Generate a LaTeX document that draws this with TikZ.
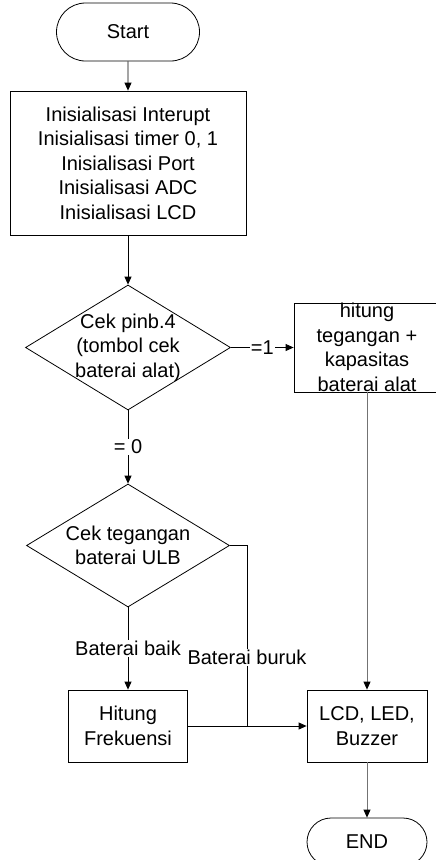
\documentclass[tikz,border=0pt]{standalone}
\usepackage{fontspec}
\setmainfont{Liberation Sans}
\usetikzlibrary{shapes.geometric,shapes.misc,arrows.meta}
\tikzset{
  flow/.style={draw, line width=0.8pt, align=center, inner sep=0pt},
  terminal/.style={flow, rounded rectangle},
  procbox/.style={flow, rectangle},
  decision/.style={flow, diamond},
  arr/.style={-{Triangle[length=8pt,width=7pt,color=black]}, line width=0.8pt},
  lbl/.style={fill=white, inner sep=1pt},
}

\begin{document}
\begin{tikzpicture}[x=1pt, y=1pt, font=\fontsize{20}{24.5}\selectfont]
    \useasboundingbox (0,0) rectangle (436,-860);
    \node[terminal, minimum width=143pt, minimum height=58pt] (start) at (128,-32) {Start};
    \node[procbox, minimum width=236pt, minimum height=144pt] (init) at (128,-163)
      {Inisialisasi Interupt\\Inisialisasi timer 0, 1\\Inisialisasi Port\\Inisialisasi ADC\\Inisialisasi LCD};
    \node[decision, minimum width=205pt, minimum height=125pt,
      label={[align=center]center:Cek pinb.4\\(tombol cek\\baterai alat)}] (cekpin) at (128,-347.5) {};
    \node[procbox, minimum width=146pt, minimum height=89pt,
      label={[align=center]center:hitung\\tegangan +\\kapasitas\\baterai alat}] (hitung) at (367,-347.5) {};
    \node[decision, minimum width=203pt, minimum height=123pt,
      label={[align=center]center:Cek tegangan\\baterai ULB}] (cekulb) at (128,-545.5) {};
    \node[procbox, minimum width=119pt, minimum height=72pt] (freq) at (128,-726) {Hitung\\Frekuensi};
    \node[procbox, minimum width=120pt, minimum height=72pt] (lcd) at (367,-726) {LCD, LED,\\Buzzer};
    \node[terminal, minimum width=120pt, minimum height=48pt] (end) at (367,-842) {END};
    \coordinate (join) at (247,-726);

    % connectors
    \draw[arr] (start) -- (init);
    \draw[arr] (init) -- (cekpin);
    \draw[arr] (cekpin) -- node[lbl] {=1} (hitung);
    \draw[arr] (cekpin) -- node[lbl] {= 0} (cekulb);
    \draw[arr] (cekulb) -- node[lbl] {Baterai baik} (freq);
    \draw[line width=0.8pt] (cekulb.east) -| node[lbl, pos=0.81] {Baterai buruk} (join);
    \draw[arr] (freq) -- (lcd);
    \draw[arr, black!55] (hitung) -- (lcd);
    \draw[arr, black!55] (lcd) -- (end);
\end{tikzpicture}
\end{document}
